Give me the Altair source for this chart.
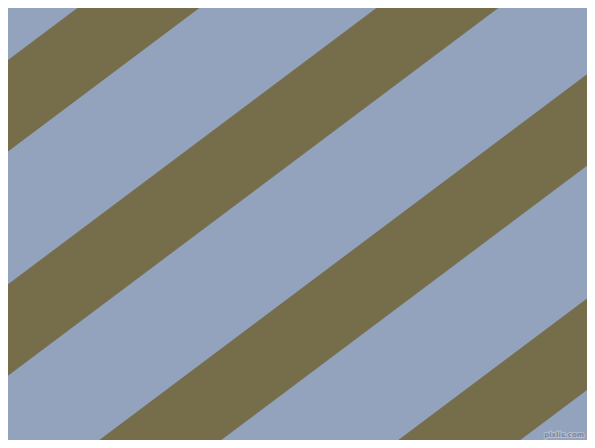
import altair as alt
import pandas as pd

W, H = 595, 448
background_color = "#93A2BD"
stripe_color = "#766E4B"

# x position (at the top edge, y=0) where each stripe's upper boundary starts
stripe_starts = [88, 387, 686, 985]
stripe_width = 122          # horizontal width of each stripe
slope = 0.75                # drop per unit of x
x_ends = [-20, 615]
watermark = ["pixlis.com"]

rows = []
for i, c in enumerate(stripe_starts):
    for x in x_ends:
        rows.append({
            "stripe": i,
            "x": x,
            "y_top": slope * (c - x),
            "y_bot": slope * (c + stripe_width - x),
        })
df = pd.DataFrame(rows)

xs = alt.Scale(domain=[0, W], nice=False, zero=False)
ys = alt.Scale(domain=[0, H], nice=False, zero=False, reverse=True)

stripes = alt.Chart(df).mark_area(clip=True, color=stripe_color, opacity=1).encode(
    x=alt.X("x:Q", scale=xs, axis=None),
    y=alt.Y("y_top:Q", scale=ys, axis=None),
    y2="y_bot:Q",
    detail="stripe:N",
)

wm_df = pd.DataFrame({"label": watermark})
wm_halo = alt.Chart(wm_df).mark_text(
    font="DejaVu Sans", fontSize=7, fontWeight="bold", stroke="#b4c0d4",
    strokeWidth=2, fill="#b4c0d4", align="right", baseline="middle",
).encode(x=alt.value(584), y=alt.value(435), text="label:N")
wm_text = alt.Chart(wm_df).mark_text(
    font="DejaVu Sans", fontSize=7, fontWeight="bold", fill="#7c8698",
    align="right", baseline="middle",
).encode(x=alt.value(584), y=alt.value(435), text="label:N")

chart = alt.layer(stripes, wm_halo, wm_text).properties(
    width=W, height=H,
    padding={"left": -8, "top": -8, "right": -8, "bottom": -8},
    autosize="none",
    background=background_color,
).configure_view(fill=background_color, strokeWidth=0)

chart.save("out.html", embed_options={"renderer": "svg", "actions": False})
